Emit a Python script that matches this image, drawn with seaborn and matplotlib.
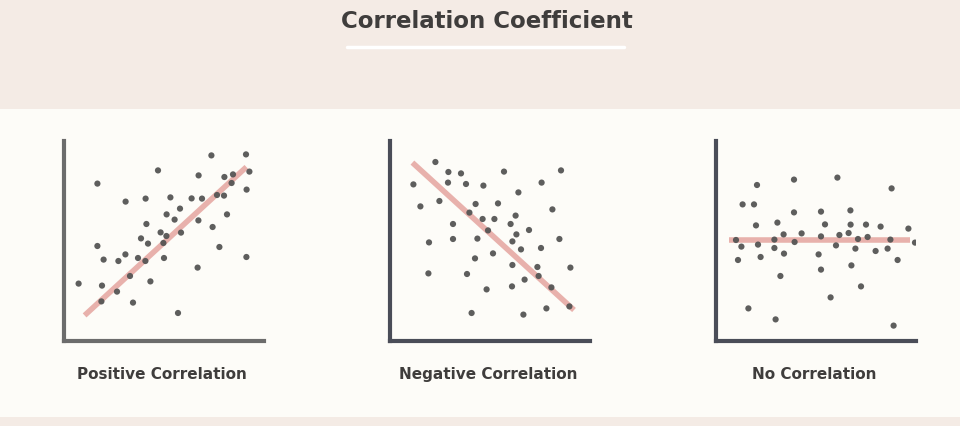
import matplotlib
matplotlib.use("Agg")
import matplotlib.pyplot as plt
import numpy as np
import pandas as pd
import seaborn as sns

# point clouds (0-100 units in each panel)
pos_x = [7.3, 16.7, 16.7, 19.8, 19.0, 18.7, 26.5, 27.2, 30.8, 30.7, 33.0, 34.5, 37.0, 38.5,
         40.8, 41.2, 40.7, 42.0, 43.2, 47.0, 48.3, 49.7, 50.0, 51.2, 51.3, 53.2, 55.3, 58.0,
         58.5, 57.0, 63.8, 66.8, 67.2, 67.3, 69.0, 73.7, 74.3, 76.5, 77.7, 80.2, 80.0, 81.5,
         83.8, 84.5, 91.0, 91.3, 92.7, 91.2]
pos_y = [28.7, 78.7, 47.5, 40.7, 27.7, 19.8, 24.7, 40.0, 69.7, 43.3, 32.5, 19.2, 41.5, 51.3,
         71.2, 58.5, 40.0, 48.7, 29.8, 85.3, 54.3, 49.0, 41.5, 52.5, 63.3, 71.8, 60.7, 66.2,
         54.2, 14.0, 71.3, 36.7, 60.3, 82.8, 71.2, 92.8, 57.0, 73.0, 47.0, 82.0, 72.7, 63.3,
         79.0, 83.3, 93.3, 75.7, 84.7, 42.0]
pos_line_x = [10.3, 91.2]
pos_line_y = [12.8, 87.0]

neg_x = [22.7, 11.7, 29.2, 35.5, 29.0, 38.0, 46.7, 57.0, 85.5, 75.8, 64.2, 15.2, 24.7, 42.8,
         54.0, 39.7, 81.2, 62.8, 31.5, 46.3, 52.2, 60.3, 49.0, 69.5, 63.2, 19.5, 31.5, 43.7,
         61.2, 84.7, 65.5, 75.5, 51.5, 42.5, 61.2, 73.7, 90.2, 19.2, 38.5, 74.3, 67.3, 48.3,
         61.0, 80.7, 40.8, 66.7, 78.2, 89.7]
neg_y = [89.5, 78.3, 84.5, 83.8, 79.2, 78.5, 77.7, 84.7, 85.3, 79.2, 74.3, 67.3, 70.0, 68.5,
         68.8, 64.2, 65.8, 62.7, 58.5, 61.0, 61.0, 58.5, 55.3, 55.5, 53.3, 49.3, 51.0, 51.2,
         49.8, 51.0, 45.8, 46.5, 43.8, 41.3, 38.0, 37.0, 36.7, 33.8, 33.5, 32.5, 30.7, 25.8,
         27.3, 26.8, 14.0, 13.2, 16.3, 17.3]
neg_line_x = [11.2, 92.0]
neg_line_y = [89.2, 15.5]

none_x = [20.5, 39.0, 60.7, 87.8, 13.3, 19.0, 39.0, 52.5, 67.2, 20.0, 30.7, 54.5, 67.3, 75.0,
          82.3, 96.2, 33.8, 42.8, 52.5, 61.7, 66.3, 71.0, 75.8, 10.0, 29.2, 39.3, 87.2, 99.5,
          12.7, 21.0, 29.2, 60.0, 69.7, 79.8, 85.8, 11.0, 22.3, 34.0, 51.3, 90.8, 52.5, 67.7,
          32.2, 72.5, 57.3, 16.2, 29.8, 88.8]
none_y = [78.0, 80.7, 81.7, 76.3, 68.3, 68.3, 64.3, 64.7, 65.3, 57.8, 59.2, 58.3, 58.2, 58.2,
          57.2, 56.2, 53.3, 53.8, 52.3, 53.0, 54.0, 51.0, 52.0, 50.5, 50.7, 49.5, 50.7, 49.2,
          47.2, 48.2, 46.5, 47.8, 46.2, 45.0, 46.2, 40.5, 42.0, 43.7, 43.3, 40.5, 35.7, 37.8,
          32.5, 27.3, 21.8, 16.3, 10.8, 7.7]
none_line_x = [6.7, 97.0]
none_line_y = [50.3, 50.3]

titles = ["Positive Correlation", "Negative Correlation", "No Correlation"]

W, H = 960, 427
fig = plt.figure(figsize=(W / 100, H / 100), dpi=100)
fig.patch.set_facecolor("#fdfcf8")

# background bands
bg = fig.add_axes([0, 0, 1, 1])
bg.set_xlim(0, W)
bg.set_ylim(H, 0)
bg.axis("off")
bg.add_patch(plt.Rectangle((0, 0), W, 110, color="#f4ebe5", lw=0))
bg.add_patch(plt.Rectangle((0, 418), W, 9, color="#f4ebe5", lw=0))
bg.plot([347, 624], [48, 48], color="white", lw=2.5, solid_capstyle="round")
bg.text(487, 21, "Correlation Coefficient", ha="center", va="center",
        fontsize=16.5, fontweight="bold", color="#3f3d3c")

panels = [
    (pos_x, pos_y, pos_line_x, pos_line_y, 64, "#6c6c6c"),
    (neg_x, neg_y, neg_line_x, neg_line_y, 390, "#4a4d58"),
    (none_x, none_y, none_line_x, none_line_y, 716, "#4a4d58"),
]

bottom, size = 342, 200
for (px, py, lx, ly, left, spine_col), name in zip(panels, titles):
    ax = fig.add_axes([left / W, (H - bottom) / H, size / W, size / H])
    ax.set_facecolor("none")
    line_df = pd.DataFrame({"x": lx, "y": ly})
    sns.lineplot(data=line_df, x="x", y="y", ax=ax, color="#e39f99", lw=4,
                 alpha=0.8, solid_capstyle="butt")
    pts = pd.DataFrame({"x": px, "y": py})
    sns.scatterplot(data=pts, x="x", y="y", ax=ax, color="#555555", s=20,
                    edgecolor="none", alpha=0.95, zorder=3)
    ax.set_xlim(0, 100)
    ax.set_ylim(0, 100)
    ax.set_xticks([])
    ax.set_yticks([])
    ax.set_xlabel("")
    ax.set_ylabel("")
    for side in ["top", "right"]:
        ax.spines[side].set_visible(False)
    for side in ["left", "bottom"]:
        ax.spines[side].set_color(spine_col)
        ax.spines[side].set_linewidth(3)
    bg.text(left + 98, 375, name, ha="center", va="center", fontsize=11,
            fontweight="bold", color="#3f3d3c")

fig.savefig("out.png", dpi=100, facecolor=fig.get_facecolor())
